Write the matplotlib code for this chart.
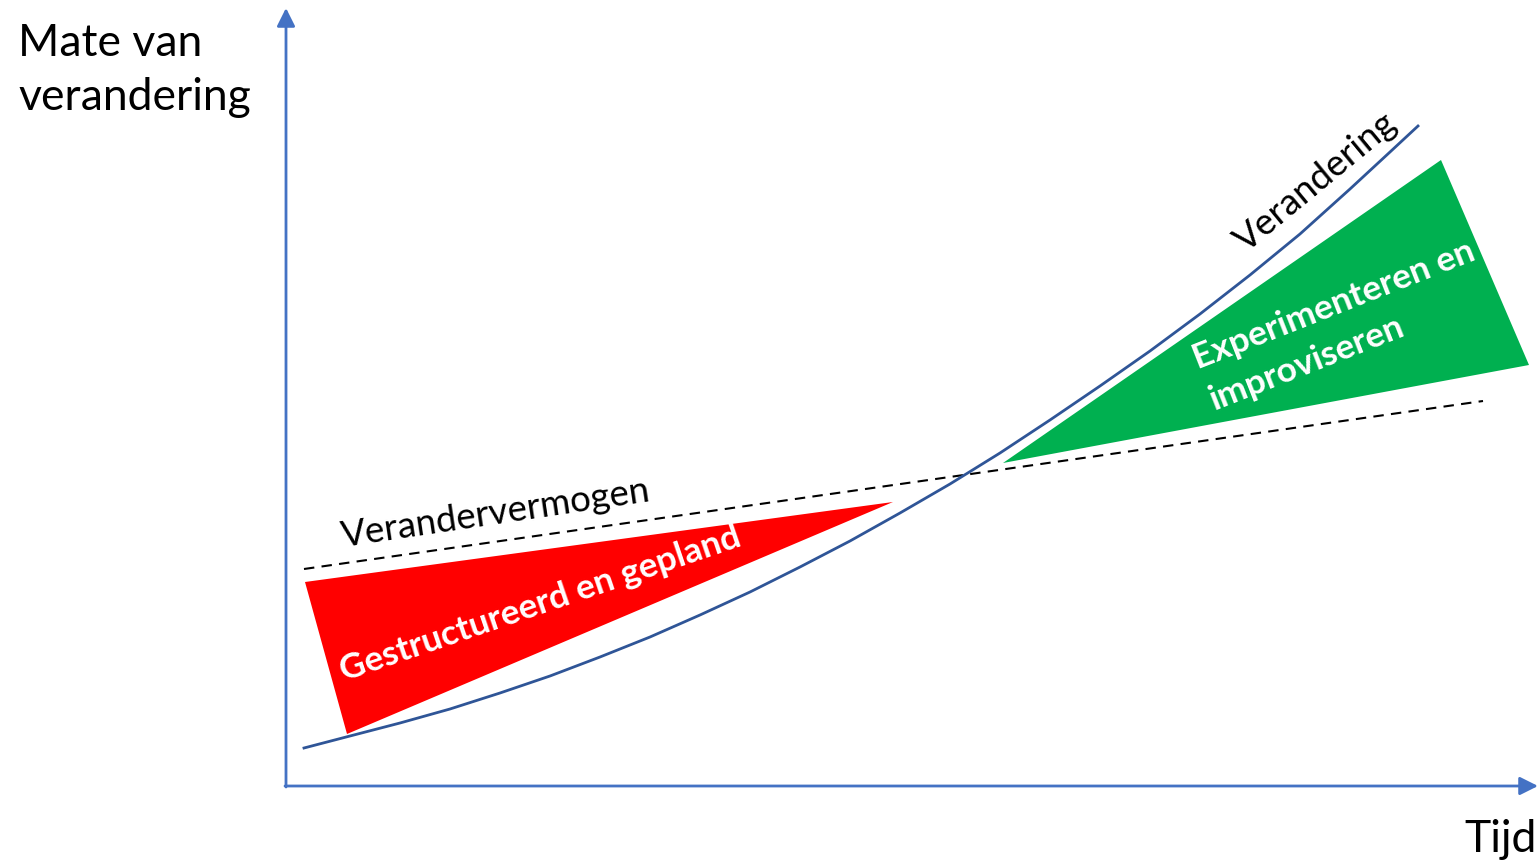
import matplotlib.pyplot as plt
import matplotlib.patches as mpatches

plt.rcParams['font.family'] = ['Lato', 'DejaVu Sans']

# canvas in pixel units (y grows downwards, like the picture)
W = 1539
H = 863

# "Verandering" curve
curve_x = [304, 350, 400, 450, 500, 550, 600, 650, 700, 750, 800, 850, 900, 950,
           1000, 1050, 1100, 1150, 1200, 1250, 1300, 1350, 1390, 1418]
curve_y = [748, 736, 723, 709, 693, 676, 657, 637, 615, 592, 567, 541, 513, 484,
           453, 420, 386, 351, 314, 275, 234, 189, 152, 126]

# "Verandervermogen" dashed line
cap_x = [304, 1483]
cap_y = [569, 401]

# triangles
red_tri = [(305, 582), (893, 502), (347, 734)]
green_tri = [(1003, 463), (1441, 160), (1529, 365)]

# axes
y_axis_x = 286
x_axis_y = 786
axis_top = 8
axis_right = 1538

label_y = "Mate van\nverandering"
label_x = "Tijd"
label_curve = "Verandering"
label_cap = "Verandervermogen"
label_red = "Gestructureerd en gepland"
label_green = ["Experimenteren en", "improviseren"]

axis_col = "#4472C4"
curve_col = "#2F5597"
red_col = "#FF0000"
green_col = "#00B050"

fig = plt.figure(figsize=(W / 100, H / 100), dpi=100)
ax = fig.add_axes([0, 0, 1, 1])
ax.set_xlim(0, W)
ax.set_ylim(H, 0)
ax.axis("off")

# axes with arrow heads
ax.annotate("", xy=(y_axis_x, axis_top), xytext=(y_axis_x, x_axis_y + 1),
            arrowprops=dict(arrowstyle="-|>,head_length=1.1,head_width=0.55",
                            color=axis_col, lw=2, shrinkA=0, shrinkB=0))
ax.annotate("", xy=(axis_right, x_axis_y), xytext=(y_axis_x - 1, x_axis_y),
            arrowprops=dict(arrowstyle="-|>,head_length=1.1,head_width=0.55",
                            color=axis_col, lw=2, shrinkA=0, shrinkB=0))

ax.add_patch(mpatches.Polygon(red_tri, closed=True, facecolor=red_col, edgecolor="none"))
ax.add_patch(mpatches.Polygon(green_tri, closed=True, facecolor=green_col, edgecolor="none"))

ax.plot(cap_x, cap_y, color="black", lw=1.5, dashes=(5, 3.5))
ax.plot(curve_x, curve_y, color=curve_col, lw=2, solid_joinstyle="round")

ax.text(18, 110, label_y, fontsize=32, ha="left", va="baseline", linespacing=1.4)
ax.text(1537, 852, label_x, fontsize=32, ha="right", va="baseline")

ax.text(1316, 182, label_curve, fontsize=26.5, rotation=39.5, ha="center", va="center",
        rotation_mode="anchor")
ax.text(496, 514, label_cap, fontsize=26.5, rotation=8.5, ha="center", va="center",
        rotation_mode="anchor")
ax.text(540, 604, label_red, fontsize=25.5, fontweight="bold", color="white",
        rotation=18.8, ha="center", va="center", rotation_mode="anchor")
ax.text(1198, 369, label_green[0], fontsize=25.5, fontweight="bold", color="white",
        rotation=21.5, ha="left", va="baseline", rotation_mode="anchor")
ax.text(1214, 410, label_green[1], fontsize=25.5, fontweight="bold", color="white",
        rotation=21.5, ha="left", va="baseline", rotation_mode="anchor")

fig.savefig("out.png", dpi=100)
